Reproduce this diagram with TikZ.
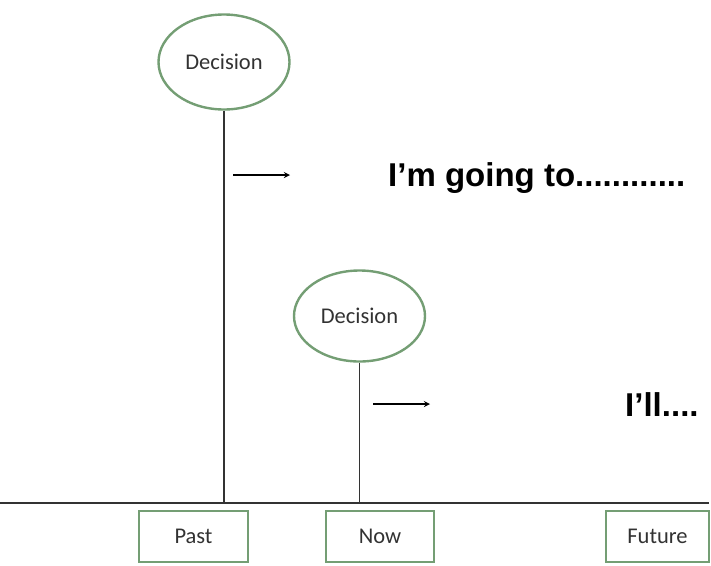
\documentclass[tikz,border=0pt]{standalone}
\usepackage{fontspec}
\setmainfont{Carlito}
\newfontfamily\boldsans{Liberation Sans}
\usetikzlibrary{shapes.geometric, arrows, positioning}
\definecolor{boxgreen}{RGB}{116,158,116}
\definecolor{labelgrey}{RGB}{50,50,50}
\tikzstyle{decision} = [ellipse, minimum width=131pt, minimum height=95pt, inner sep=0pt, draw=boxgreen, line width=2.4pt, text=labelgrey, font=\fontsize{22.5}{26}\selectfont]
\tikzstyle{period} = [rectangle, minimum height=51pt, inner sep=0pt, draw=boxgreen, line width=2.4pt, text=labelgrey, font=\fontsize{22.5}{26}\selectfont]
\tikzstyle{saying} = [anchor=base west, inner sep=0pt, font=\boldsans\bfseries\fontsize{33}{36}\selectfont]
\tikzstyle{stem} = [line width=1.5pt, draw=black!80]
\tikzstyle{arrow} = [line width=1.7pt,->,>=stealth]

\begin{document}
\begin{tikzpicture}[x=1pt, y=-1pt]
        \useasboundingbox (0,0) rectangle (711,565);

        % timeline
        \coordinate (tl) at (0,503);
        \coordinate (tr) at (709,503);
        \draw [stem] (tl) -- (tr);

        \node (past) [period, minimum width=109pt] at (193.5,536.5) {Past};
        \node (now) [period, minimum width=108pt] at (380,536.5) {Now};
        \node (future) [period, minimum width=102.6pt] at (657.5,536.5) {Future};

        % decisions
        \node (dec1) [decision] at (224,62) {Decision};
        \node (dec2) [decision, minimum height=91pt] at (359.5,316) {Decision};
        \draw [stem] (dec1.south) -- (dec1.south |- tl);
        \draw [stem] (dec2.south) -- (dec2.south |- tl);

        \coordinate (a1) at (233,175);
        \coordinate (b1) at (290,175);
        \coordinate (a2) at (373,404);
        \coordinate (b2) at (430,404);
        \draw [arrow] (a1) -- (b1);
        \draw [arrow] (a2) -- (b2);

        \node (goingto) [saying] at (388,186) {I’m going to............};
        \node (will) [saying] at (625,416) {I’ll....};

\end{tikzpicture}
\end{document}
